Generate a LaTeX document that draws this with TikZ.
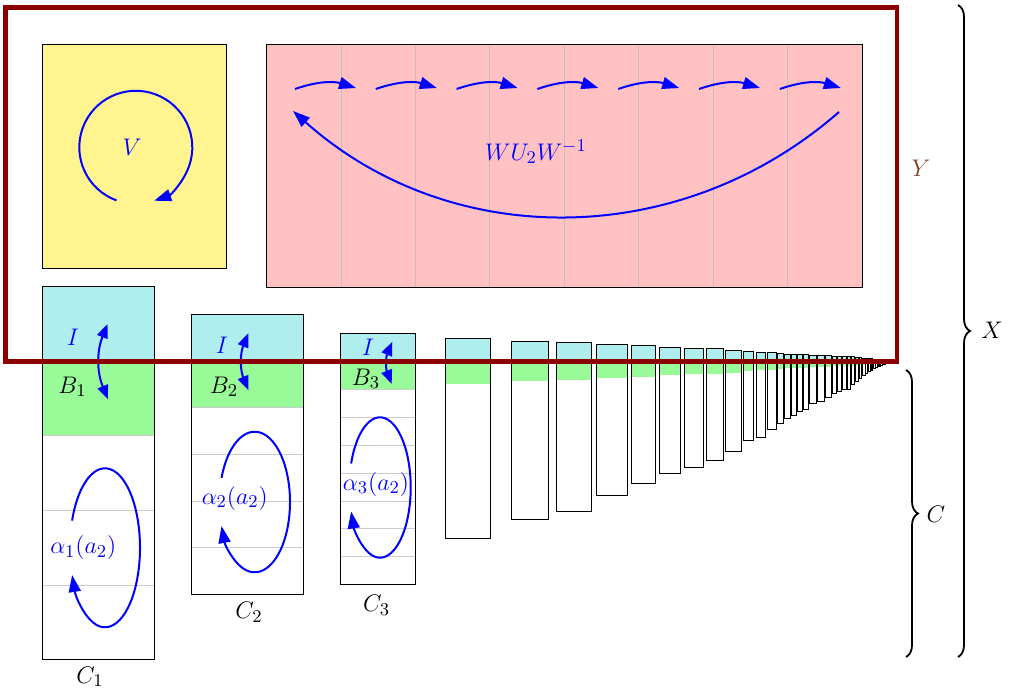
\documentclass[tikz,border=0pt]{standalone}
\usetikzlibrary{arrows.meta,decorations.pathreplacing}

\definecolor{boxyellow}{RGB}{255,244,143}
\definecolor{boxpink}{RGB}{255,193,193}
\definecolor{cellcyan}{RGB}{175,238,238}
\definecolor{cellgreen}{RGB}{152,251,152}
\definecolor{framered}{RGB}{139,0,0}
\definecolor{ybrown}{RGB}{128,64,32}

\tikzset{
  flow/.style={blue, line width=1pt, -{Triangle[length=8.5pt,width=6pt]}},
  twoway/.style={blue, line width=1pt, {Triangle[length=7pt,width=5.5pt]}-{Triangle[length=7pt,width=5.5pt]}},
  cellrule/.style={gray!40, line width=0.5pt},
  column/.style={draw=black, line width=0.5pt},
  mathlbl/.style={font=\fontsize{12.5}{15}\selectfont, inner sep=0pt},
  bracebar/.style={decorate, decoration={brace, amplitude=6pt}, line width=0.9pt},
}

\begin{document}
\begin{tikzpicture}[x=0.5pt, y=0.5pt]
    \useasboundingbox (0,0) rectangle (1011,691);

    % V block
    \filldraw[fill=boxyellow, draw=black, line width=0.5pt] (42.7,422) rectangle (226.7,646);
    \coordinate (vc) at (135.8,543.7);
    \draw[flow] ([shift={(250:28.25pt)}]vc) arc[start angle=250, end angle=-71, radius=28.25pt];
    \node[blue, mathlbl] (vlbl) at (132,544) {$V$};

    % W U_2 W^{-1} block
    \filldraw[fill=boxpink, draw=black, line width=0.5pt] (266.7,403.7) rectangle (862,646);
    \foreach \k in {1,...,7}
        \draw[gray!50, line width=0.5pt] ({266.7+74.41*\k},404.2) -- ({266.7+74.41*\k},645.5);
    \foreach \k in {0,...,6} {
        \coordinate (s\k) at ({295+80.8*\k},602);
        \coordinate (t\k) at ({356+80.8*\k},603);
        \draw[flow] (s\k) to[bend left=18] (t\k);
    }
    \coordinate (wr) at (839,579);
    \coordinate (wl) at (293,580);
    \draw[flow] (wr) .. controls (680,440) and (450,440) .. (wl);
    \node[blue, mathlbl] (wlbl) at (536,539) {$WU_2W^{-1}$};

    % C_1, C_2, C_3
    \foreach \lx/\rx/\c/\nw in {42.7/154.3/74.5/3, 191.7/303.3/46.5/4, 340.3/415.3/27.9/7} {
        \fill[cellcyan] (\lx,329.5) rectangle (\rx,{329.5+\c});
        \fill[cellgreen] (\lx,{329.5-\c}) rectangle (\rx,329.5);
        \foreach \j in {1,...,\nw}
            \draw[cellrule] (\lx,{329.5-\c*\j}) -- (\rx,{329.5-\c*\j});
        \draw[column] (\lx,{329.5-\c*(\nw+1)}) rectangle (\rx,{329.5+\c});
    }
    \node[mathlbl] (c1) at (90,14.3) {$C_1$};
    \node[mathlbl] (c2) at (249,78.5) {$C_2$};
    \node[mathlbl] (c3) at (376.7,86) {$C_3$};

    % I <-> B_n
    \node[blue, mathlbl] (i1) at (73,354) {$I$};
    \node[mathlbl] (b1) at (72.5,304) {$B_1$};
    \node[blue, mathlbl] (i2) at (222,346) {$I$};
    \node[mathlbl] (b2) at (224,304) {$B_2$};
    \node[blue, mathlbl] (i3) at (368,344) {$I$};
    \node[mathlbl] (b3) at (366,312) {$B_3$};
    \coordinate (ib1) at (108,291.7);   \coordinate (it1) at (107.5,367);
    \coordinate (ib2) at (248.3,301);   \coordinate (it2) at (248.3,357.7);
    \coordinate (ib3) at (391.7,307);   \coordinate (it3) at (392.3,349.3);
    \draw[twoway] (ib1) to[bend left=22] (it1);
    \draw[twoway] (ib2) to[bend left=22] (it2);
    \draw[twoway] (ib3) to[bend left=22] (it3);

    % alpha_n(a_2) loops
    \coordinate (e1) at (105,143.2);
    \coordinate (e2) at (254.7,189);
    \coordinate (e3) at (380,203.5);
    \draw[flow] ([shift={(160:17.5pt and 39.75pt)}]e1) arc[start angle=160, end angle=-160, x radius=17.5pt, y radius=39.75pt];
    \draw[flow] ([shift={(160:17.65pt and 35.15pt)}]e2) arc[start angle=160, end angle=-160, x radius=17.65pt, y radius=35.15pt];
    \draw[flow] ([shift={(160:15.35pt and 35.1pt)}]e3) arc[start angle=160, end angle=-160, x radius=15.35pt, y radius=35.1pt];
    \node[blue, mathlbl] (a1) at (83.3,143.5) {$\alpha_1(a_2)$};
    \node[blue, mathlbl] (a2) at (234.8,192.7) {$\alpha_2(a_2)$};
    \node[blue, mathlbl] (a3) at (376,207) {$\alpha_3(a_2)$};

    % the remaining C_n, shrinking towards the corner
    \foreach \lx/\rx/\h/\by in {445/490/22.5/153, 511/548.3/20/172, 556/591/19/179.3,
        596.7/627.3/17/195.3, 631.7/655/15.5/207.7, 659.3/680/14/217.7, 684.3/703.3/13/223.3,
        706.7/723.3/12.5/230, 725.7/741/11.3/239.3, 743.7/753.3/9.5/250, 756/765.7/9/253.7,
        767.3/776/8.5/261.7, 777.3/783.3/7.5/267.7, 784.3/790.7/7/272.7, 791.7/796.7/7/275,
        797.7/802.3/6.5/279.3, 803/808/6.5/281.7, 809/816/6/287.7, 817.7/824/6/289.3,
        825.7/831.3/5.5/293.7, 832.7/836.7/5/297, 837.7/841.7/5/299.3, 842.7/846.7/5/301} {
        \fill[cellcyan] (\lx,329.5) rectangle (\rx,{329.5+\h});
        \fill[cellgreen] (\lx,{329.5-\h}) rectangle (\rx,329.5);
        \draw[column] (\lx,\by) rectangle (\rx,{329.5+\h});
    }
    \foreach \i in {0,...,50} {
        \pgfmathsetmacro\d{50*0.91^\i}
        \pgfmathsetmacro\lx{897-\d}
        \pgfmathsetmacro\rx{\lx+0.07*\d}
        \pgfmathsetmacro\h{0.1*\d}
        \pgfmathsetmacro\by{329.5-\d*(0.1+0.009*\d)}
        \fill[cellcyan] (\lx,329.5) rectangle (\rx,{329.5+\h});
        \fill[cellgreen] (\lx,{329.5-\h}) rectangle (\rx,329.5);
        \draw[column] (\lx,\by) rectangle (\rx,{329.5+\h});
    }

    % Y frame
    \draw[framered, line width=2.25pt] (5.3,329.5) rectangle (897,683.5);
    \node[ybrown, mathlbl] (ylbl) at (921,523) {$Y$};

    % braces
    \draw[bracebar] (906,321) -- (906,34);
    \node[mathlbl] (clbl) at (936,177) {$C$};
    \draw[bracebar] (958,686) -- (958,34);
    \node[mathlbl] (xlbl) at (992,361) {$X$};
\end{tikzpicture}
\end{document}
